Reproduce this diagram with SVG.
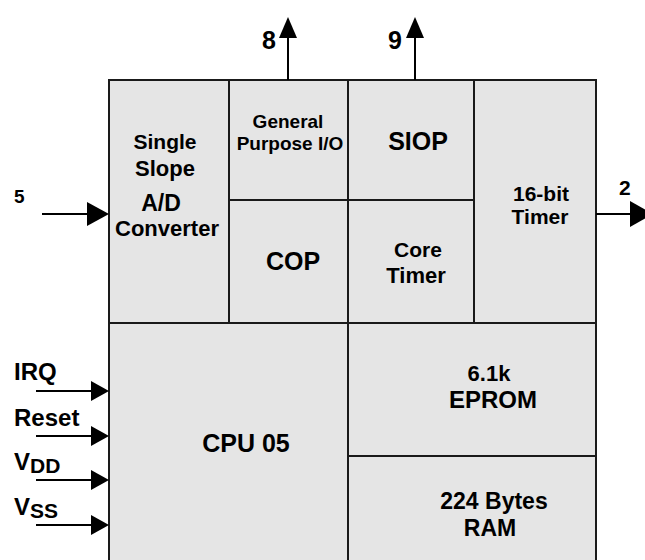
<svg xmlns="http://www.w3.org/2000/svg" width="645" height="560" viewBox="0 0 645 560">
<style>
.cell{fill:#e5e5e5;stroke:#1a1a1a;stroke-width:2}
.t{font-family:"Liberation Sans",Arial,sans-serif;font-weight:bold;fill:#000;text-anchor:middle}
.l{font-family:"Liberation Sans",Arial,sans-serif;font-weight:bold;fill:#000}
.w{stroke:#000;stroke-width:2;fill:none}
.h{fill:#000}
</style>
<rect width="645" height="560" fill="#fff"/>
<g id="ad"><rect class="cell" x="109" y="80" width="120" height="243"/>
<text class="t" font-size="21" x="165" y="149">Single</text>
<text class="t" font-size="22" x="165" y="176">Slope</text>
<text class="t" font-size="23" x="161" y="211">A/D</text>
<text class="t" font-size="22" x="167" y="236">Converter</text></g>
<g id="gpio"><rect class="cell" x="229" y="80" width="119" height="120"/>
<text class="t" font-size="19" x="288" y="128">General</text>
<text class="t" font-size="19" x="290" y="150">Purpose I/O</text></g>
<g id="cop"><rect class="cell" x="229" y="200" width="119" height="123"/>
<text class="t" font-size="25" x="293" y="270">COP</text></g>
<g id="siop"><rect class="cell" x="348" y="80" width="126" height="120"/>
<text class="t" font-size="25" x="418" y="150">SIOP</text></g>
<g id="coretimer"><rect class="cell" x="348" y="200" width="126" height="123"/>
<text class="t" font-size="21" x="418" y="257">Core</text>
<text class="t" font-size="22" x="416" y="283">Timer</text></g>
<g id="timer16"><rect class="cell" x="474" y="80" width="122" height="243"/>
<text class="t" font-size="21" x="541" y="201">16-bit</text>
<text class="t" font-size="21" x="540" y="224">Timer</text></g>
<g id="cpu"><rect class="cell" x="109" y="323" width="239" height="250"/>
<text class="t" font-size="25" x="246" y="452">CPU 05</text></g>
<g id="eprom"><rect class="cell" x="348" y="323" width="248" height="133"/>
<text class="t" font-size="22" x="489" y="381">6.1k</text>
<text class="t" font-size="24" x="493" y="408">EPROM</text></g>
<g id="ram"><rect class="cell" x="348" y="456" width="248" height="120"/>
<text class="t" font-size="23" x="494" y="509">224 Bytes</text>
<text class="t" font-size="23" x="490" y="536">RAM</text></g>
<g id="connectors">
<line class="w" x1="288" y1="80" x2="288" y2="36"/><polygon class="h" points="288,17 279,38 297,38"/>
<text class="l" font-size="25" x="262" y="49">8</text>
<line class="w" x1="415" y1="80" x2="415" y2="36"/><polygon class="h" points="415,17 406,38 424,38"/>
<text class="l" font-size="25" x="388" y="49">9</text>
<line class="w" x1="42" y1="214" x2="90" y2="214"/><polygon class="h" points="109,214 87,202 87,226"/>
<text class="l" font-size="19" x="14" y="203">5</text>
<line class="w" x1="596" y1="214" x2="632" y2="214"/><polygon class="h" points="653,214 630,201 630,227"/>
<text class="l" font-size="21" x="619" y="195">2</text>
<line class="w" x1="36" y1="391" x2="93" y2="391"/><polygon class="h" points="109,391 91,381 91,401"/>
<text class="l" font-size="24" x="14" y="380">IRQ</text>
<line class="w" x1="36" y1="436" x2="93" y2="436"/><polygon class="h" points="109,436 91,426 91,446"/>
<text class="l" font-size="24" x="14" y="426">Reset</text>
<line class="w" x1="36" y1="480" x2="93" y2="480"/><polygon class="h" points="109,480 91,470 91,490"/>
<text class="l" font-size="24" x="14" y="470">V<tspan font-size="21" dy="3">DD</tspan></text>
<line class="w" x1="36" y1="525" x2="93" y2="525"/><polygon class="h" points="109,525 91,515 91,535"/>
<text class="l" font-size="24" x="14" y="515">V<tspan font-size="21" dy="3">SS</tspan></text>
</g>
</svg>
